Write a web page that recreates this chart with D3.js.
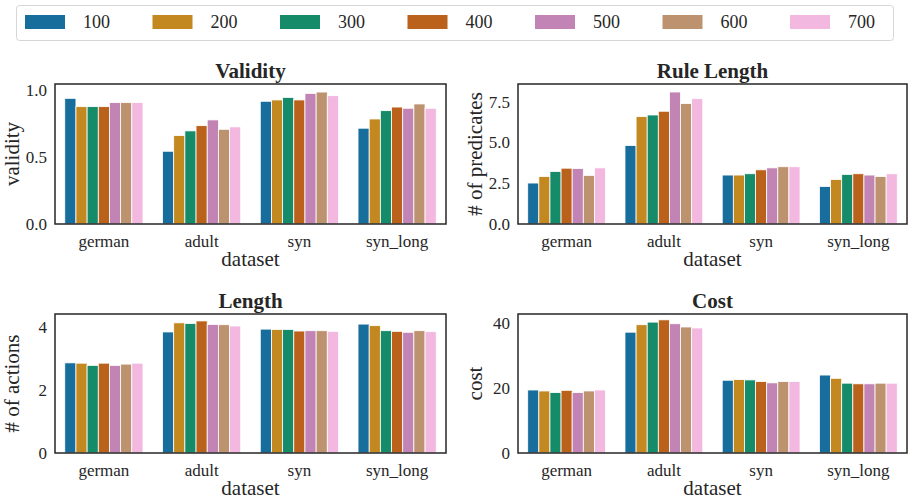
<!DOCTYPE html>
<html lang="en">
<head>
<meta charset="utf-8">
<title>Validity, rule length, length and cost by dataset</title>
<script src="https://d3js.org/d3.v7.min.js"></script>
<style>
  body { margin: 0; background: #fff; }
  text { font-family: "Liberation Serif", "DejaVu Serif", serif; fill: #262626; }
</style>
</head>
<body>
<script>

// data
var datasets = ["german", "adult", "syn", "syn_long"];
var series = ["100", "200", "300", "400", "500", "600", "700"];

// one row per dataset, one value per series
var validity = [
  [0.938, 0.876, 0.876, 0.876, 0.906, 0.906, 0.906],
  [0.543, 0.660, 0.695, 0.734, 0.777, 0.707, 0.725],
  [0.916, 0.926, 0.945, 0.926, 0.975, 0.985, 0.958],
  [0.715, 0.784, 0.846, 0.873, 0.864, 0.896, 0.864]
];
var ruleLength = [
  [2.51, 2.91, 3.22, 3.42, 3.40, 2.98, 3.44],
  [4.81, 6.58, 6.68, 6.91, 8.09, 7.38, 7.68],
  [3.00, 3.00, 3.08, 3.32, 3.44, 3.51, 3.51],
  [2.30, 2.73, 3.04, 3.08, 3.00, 2.91, 3.08]
];
var lengthVals = [
  [2.86, 2.85, 2.78, 2.85, 2.78, 2.82, 2.85],
  [3.84, 4.13, 4.11, 4.19, 4.08, 4.07, 4.03],
  [3.93, 3.92, 3.92, 3.87, 3.88, 3.88, 3.86],
  [4.09, 4.04, 3.88, 3.86, 3.83, 3.88, 3.85]
];
var cost = [
  [19.4, 19.1, 18.6, 19.3, 18.6, 19.1, 19.4],
  [37.2, 39.5, 40.3, 41.0, 39.8, 38.8, 38.5],
  [22.4, 22.6, 22.5, 22.0, 21.6, 22.0, 22.0],
  [24.0, 23.0, 21.5, 21.3, 21.3, 21.5, 21.5]
];

var validityTicks = [0, 0.5, 1.0];
var ruleTicks = [0, 2.5, 5.0, 7.5];
var lengthTicks = [0, 2, 4];
var costTicks = [0, 20, 40];

var baseColors = ["#0173b2", "#de8f05", "#029e73", "#d55e00", "#cc78bc", "#ca9161", "#fbafe4"];
// seaborn barplot desaturates to 0.75
var colors = baseColors.map(function(c) {
  var h = d3.hsl(c);
  h.s *= 0.75;
  return h.formatHex();
});
var color = d3.scaleOrdinal().domain(series).range(colors);

var width = 908, height = 500;
var serif = "Liberation Serif, DejaVu Serif, serif";

var svg = d3.select("body").append("svg")
    .attr("width", width)
    .attr("height", height);

var panels = [
  { title: "Validity", ylabel: "validity", values: validity, ticks: validityTicks, ymax: 1.045, fmt: d3.format(".1f"),
    x0: 55, x1: 446, y0: 84, y1: 224 },
  { title: "Rule Length", ylabel: "# of predicates", values: ruleLength, ticks: ruleTicks, ymax: 8.58, fmt: d3.format(".1f"),
    x0: 518, x1: 907, y0: 84, y1: 224 },
  { title: "Length", ylabel: "# of actions", values: lengthVals, ticks: lengthTicks, ymax: 4.41, fmt: d3.format("d"),
    x0: 55, x1: 446, y0: 314, y1: 453 },
  { title: "Cost", ylabel: "cost", values: cost, ticks: costTicks, ymax: 42.8, fmt: d3.format("d"),
    x0: 518, x1: 907, y0: 314, y1: 453 }
];

panels.forEach(function(p) {
  var x = d3.scaleBand()
      .domain(datasets)
      .range([p.x0, p.x1])
      .paddingInner(0.2)
      .paddingOuter(0.1);
  var xs = d3.scaleBand()
      .domain(series)
      .range([0, x.bandwidth()]);
  var y = d3.scaleLinear()
      .domain([0, p.ymax])
      .range([p.y1, p.y0]);

  var g = svg.append("g");

  // bars
  g.selectAll("g.group")
    .data(datasets)
    .enter().append("g")
      .attr("class", "group")
      .attr("transform", function(d) { return "translate(" + x(d) + ",0)"; })
    .selectAll("rect")
    .data(function(d, i) { return p.values[i].map(function(v, j) { return { s: series[j], v: v }; }); })
    .enter().append("rect")
      .attr("x", function(d) { return xs(d.s); })
      .attr("width", xs.bandwidth())
      .attr("y", function(d) { return y(d.v); })
      .attr("height", function(d) { return y(0) - y(d.v); })
      .attr("fill", function(d) { return color(d.s); })
      .attr("stroke", "#fff")
      .attr("stroke-width", 0.8);

  // y axis (no tick marks)
  var ya = g.append("g")
      .attr("transform", "translate(" + p.x0 + ",0)")
      .call(d3.axisLeft(y).tickValues(p.ticks).tickFormat(p.fmt).tickSize(0).tickPadding(8))
      .attr("font-family", serif)
      .attr("font-size", 17);
  ya.select(".domain").remove();

  // x axis
  var xa = g.append("g")
      .attr("transform", "translate(0," + p.y1 + ")")
      .call(d3.axisBottom(x).tickSize(0).tickPadding(11))
      .attr("font-family", serif)
      .attr("font-size", 17);
  xa.select(".domain").remove();

  // frame
  g.append("rect")
      .attr("x", p.x0)
      .attr("y", p.y0)
      .attr("width", p.x1 - p.x0)
      .attr("height", p.y1 - p.y0)
      .attr("fill", "none")
      .attr("stroke", "#262626")
      .attr("stroke-width", 1.5);

  g.append("text")
      .attr("x", (p.x0 + p.x1) / 2)
      .attr("y", p.y0 - 6)
      .attr("text-anchor", "middle")
      .attr("font-size", "21px")
      .attr("font-weight", "bold")
      .text(p.title);

  g.append("text")
      .attr("x", (p.x0 + p.x1) / 2)
      .attr("y", p.y1 + 42)
      .attr("text-anchor", "middle")
      .attr("font-size", "21px")
      .text("dataset");

  g.append("text")
      .attr("transform", "translate(" + (p.x0 - 36) + "," + ((p.y0 + p.y1) / 2) + ") rotate(-90)")
      .attr("text-anchor", "middle")
      .attr("font-size", "21px")
      .text(p.ylabel);
});

// legend
var legend = svg.append("g");
legend.append("rect")
    .attr("x", 16.5)
    .attr("y", 5.5)
    .attr("width", 877)
    .attr("height", 35)
    .attr("rx", 3)
    .attr("fill", "#fff")
    .attr("stroke", "#d6d6d6")
    .attr("stroke-width", 1);

var lx = d3.scalePoint().domain(series).range([25, 790]);

var item = legend.selectAll("g.item")
    .data(series)
    .enter().append("g")
      .attr("class", "item")
      .attr("transform", function(d) { return "translate(" + lx(d) + ",0)"; });

item.append("rect")
    .attr("x", 0)
    .attr("y", 15)
    .attr("width", 40)
    .attr("height", 14)
    .attr("fill", function(d) { return color(d); });

item.append("text")
    .attr("x", 58)
    .attr("y", 28)
    .attr("font-size", "18px")
    .text(function(d) { return d; });

</script>
</body>
</html>
